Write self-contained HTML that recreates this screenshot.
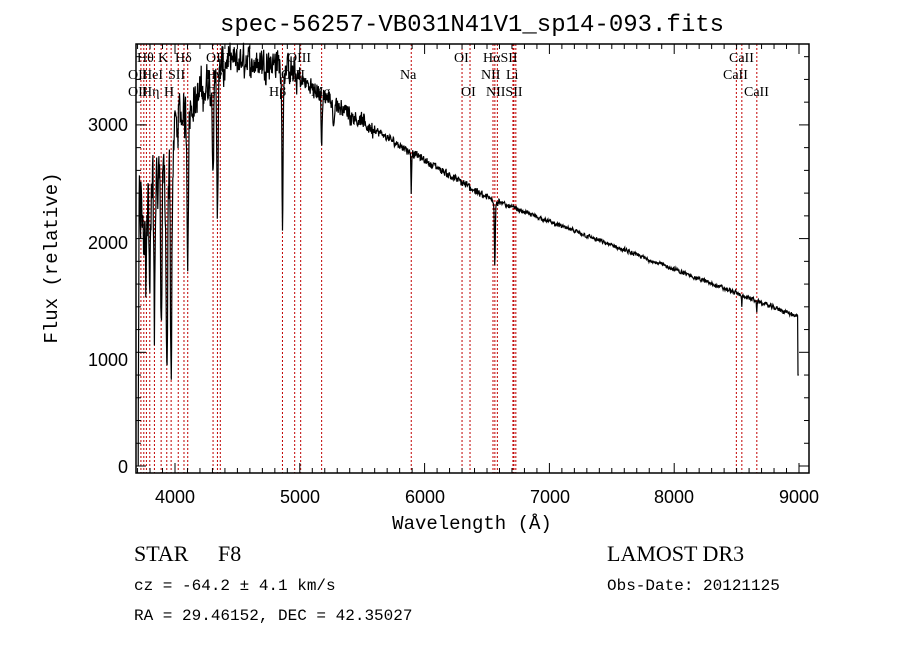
<!DOCTYPE html>
<html><head><meta charset="utf-8"><style>
html,body{margin:0;padding:0;background:#fff;}
svg text{font-family:"Liberation Sans",sans-serif;fill:#000;}
svg text.m{font-family:"Liberation Mono",monospace;}
svg text.s{font-family:"Liberation Serif",serif;}
</style></head><body>
<svg id="g" width="900" height="649" xmlns="http://www.w3.org/2000/svg">
<rect width="900" height="649" fill="#fff"/>
<g id="lines"></g>
<path id="spec" fill="none" stroke="#000" stroke-width="1.2"/>
<rect x="136" y="44" width="673" height="429" fill="none" stroke="#000" stroke-width="1.5"/>
<g id="ticks" stroke="#000" stroke-width="1"></g>
<text x="472" y="31" text-anchor="middle" font-size="24" class="m">spec-56257-VB031N41V1_sp14-093.fits</text>
<g font-size="18" text-anchor="end">
<text x="128" y="131">3000</text><text x="128" y="249">2000</text><text x="128" y="366">1000</text><text x="128" y="473">0</text>
</g>
<g font-size="18" text-anchor="middle">
<text x="175" y="503">4000</text><text x="300" y="503">5000</text><text x="425" y="503">6000</text><text x="550" y="503">7000</text><text x="674" y="503">8000</text><text x="799" y="503">9000</text>
</g>
<text x="472" y="529" text-anchor="middle" font-size="19" class="m">Wavelength (Å)</text>
<text transform="translate(57,258) rotate(-90)" text-anchor="middle" font-size="19" class="m">Flux (relative)</text>
<text x="134" y="561" font-size="22" class="s">STAR</text>
<text x="218" y="561" font-size="22" class="s">F8</text>
<text x="134" y="590" font-size="16" class="m">cz = -64.2 ± 4.1 km/s</text>
<text x="134" y="620" font-size="16" class="m">RA =  29.46152, DEC =  42.35027</text>
<text x="607" y="561" font-size="22" class="s">LAMOST DR3</text>
<text x="607" y="590" font-size="16" class="m">Obs-Date: 20121125</text>
<g id="labs" font-size="14"></g>
</svg>
<script>
var X=function(w){return 175+(w-4000)*0.1248;};
var Y=function(f){return 466-f*0.1137;};
var NS="http://www.w3.org/2000/svg";
function el(t,a,p){var e=document.createElementNS(NS,t);for(var k in a)e.setAttribute(k,a[k]);p.appendChild(e);return e;}
var L=[3727,3750,3771,3798,3835,3889,3934,3969,4026,4072,4102,4305,4340,4363,4861,4959,5007,5175,5893,6300,6364,6548,6563,6583,6708,6716,6731,8498,8542,8662];
var lg=document.getElementById('lines');
L.forEach(function(w){el('line',{x1:X(w),x2:X(w),y1:44,y2:473,stroke:'#c00000','stroke-width':1,'stroke-dasharray':'2,2'},lg);});
var labs=[["Hθ",137,62],["K",158,62],["Hδ",175,62],["OIII",206,62],["OIII",287,62],["OI",454,62],["HαSII",483,62],["CaII",729,62],
["OII",128,79],["HeI",142,79],["SII",168,79],["Hγ",206,79],["OIII",281,79],["Na",400,79],["NII",481,79],["Li",506,79],["CaII",723,79],
["OII",128,96],["Hη",142,96],["H",164,96],["G",206,96],["Hβ",269,96],["Mg",311,96],["OI",461,96],["NIISII",486,96],["CaII",744,96]];
var lb=document.getElementById('labs');
labs.forEach(function(a){el('text',{x:a[1],y:a[2],'class':'s'},lb).textContent=a[0];});
var tg=document.getElementById('ticks');
for(var w=3700;w<=9050;w+=100){var maj=w%1000==0;var x=X(w);el('line',{x1:x,x2:x,y1:473,y2:473-(maj?10:5)},tg);el('line',{x1:x,x2:x,y1:44,y2:44+(maj?10:5)},tg);}
for(var f=0;f<=3700;f+=200){var maj=f%1000==0;var y=Y(f);el('line',{x1:136,x2:136+(maj?10:5),y1:y,y2:y},tg);el('line',{x1:809,x2:809-(maj?10:5),y1:y,y2:y},tg);}
var s=12345;function r(){s=(s*1103515245+12345)%2147483648;return s/2147483648;}
function cont(w){
 if(w<4000)return 2300+(w-3700)*2;
 if(w<4400)return 3000+(w-4000)*1.3;
 if(w<4800)return 3550;
 if(w<5500)return 3550-(w-4800)*0.75;
 if(w<6500)return 3020-(w-5500)*0.66;
 return 2360-(w-6500)*0.42;}
var lines=[[3750,500,8],[3771,600,8],[3798,900,8],[3835,1100,8],[3889,1400,8],[3934,2000,10],[3969,1800,10],[4102,1200,8],[4305,600,10],[4340,1100,8],[4861,1300,7],[5175,500,6],[5270,300,5],[5893,350,4],[6563,550,5],[8542,120,3],[8662,120,3]];
var d="M"+X(3705).toFixed(1)+","+Y(0);
var prev=0;
for(var w=3706;w<=9000;w+=3){
 var c=cont(w);
 var amp=w<4000?700:w<4400?450:w<5000?320:w<5600?180:w<6600?80:45;
 var n=(r()-0.5)*amp+(r()-0.5)*amp*0.5;
 prev=prev*0.3+n*0.7;
 var f=c+prev;
 lines.forEach(function(l){var dd=(w-l[0])/l[2];f-=l[1]*Math.exp(-dd*dd);});
 if(w<4000&&r()<0.15)f-=r()*1200;
 if(w<3712)f=Math.min(f,300+(w-3705)*250);
 if(w>8990)f=800;
 d+=" L"+X(w).toFixed(1)+","+Y(f).toFixed(1);
}
document.getElementById('spec').setAttribute('d',d);
</script>
</body></html>
